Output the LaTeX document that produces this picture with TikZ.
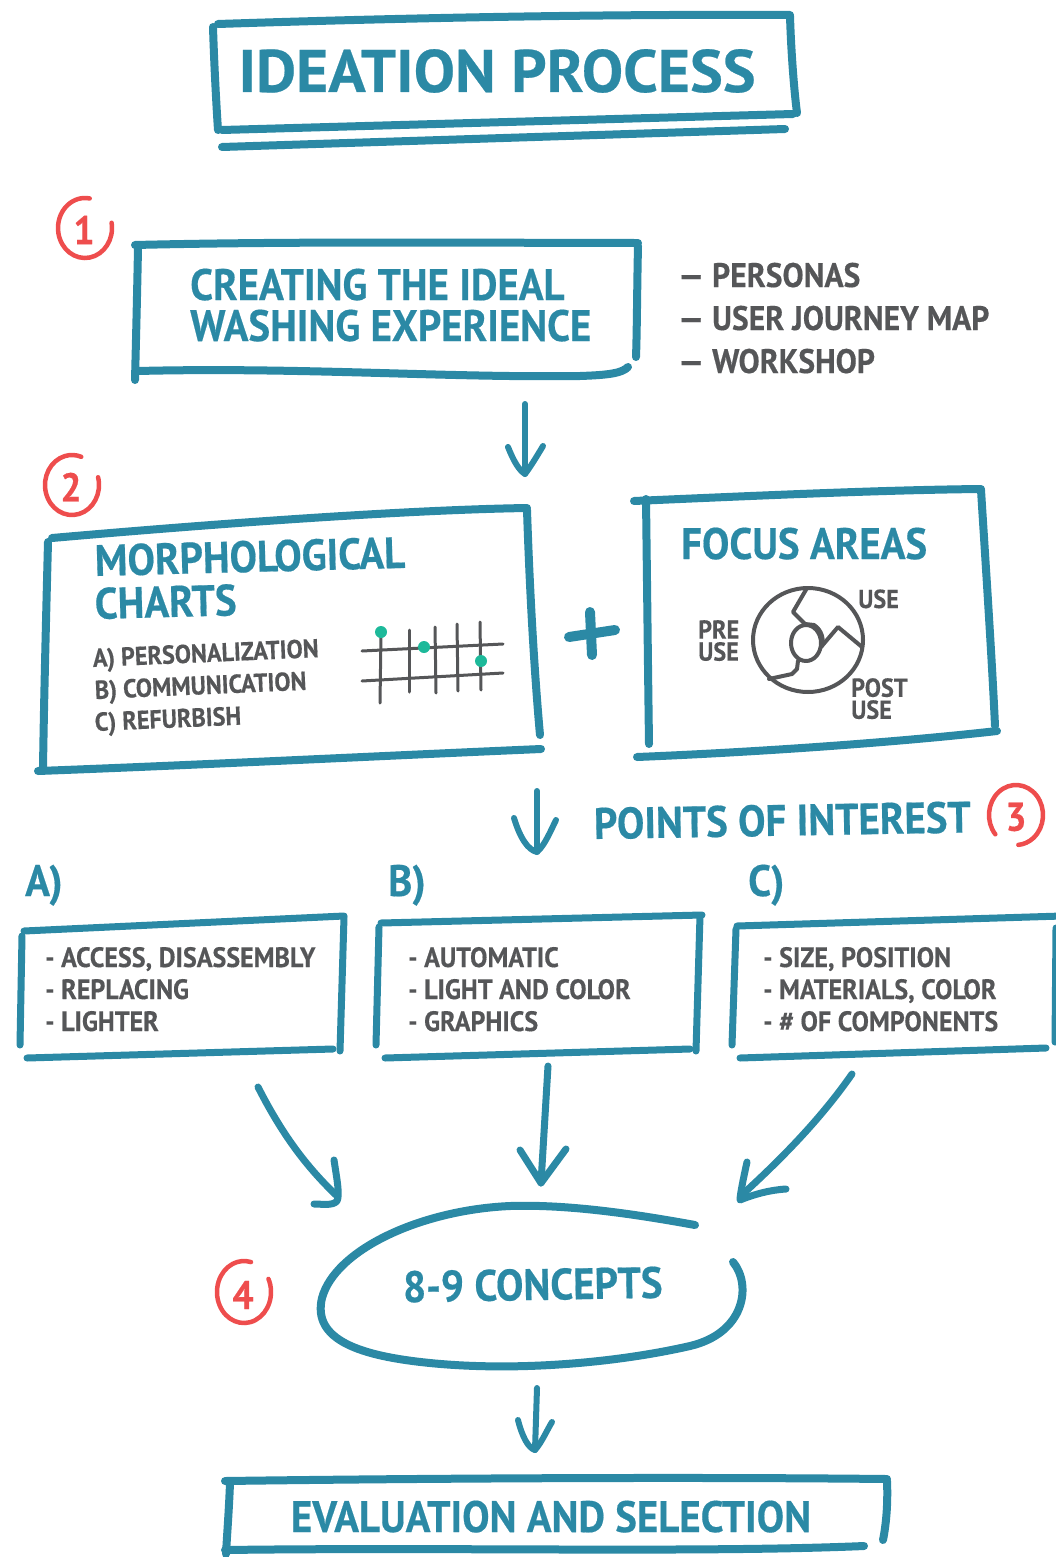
\documentclass[tikz,border=0pt]{standalone}
\usepackage{fontspec}
\setmainfont{PT Sans}[FakeStretch=0.93,BoldFeatures={FakeBold=0.4}]
\newfontfamily\titlefont{PT Sans}[FakeStretch=1.03,BoldFeatures={FakeBold=0.4}]
\definecolor{ink}{HTML}{2B89A5}
\definecolor{redc}{HTML}{EE4D4D}
\definecolor{grayc}{HTML}{555658}
\definecolor{dotc}{HTML}{1DB99A}
\newcommand{\fsz}[1]{\fontsize{#1}{#1}\selectfont}
\begin{document}
\begin{tikzpicture}[x=1pt,y=-1pt,
  sk/.style={draw=ink,line width=8pt,line cap=round,line join=round},
  skthin/.style={draw=ink,line width=7pt,line cap=round,line join=round},
  skarr/.style={draw=ink,line width=6pt,line cap=round,line join=round},
  ring/.style={draw=redc,line width=4.5pt,line cap=round},
  rnum/.style={text=redc,font=\bfseries\fsz{40},inner sep=0},
  hd/.style={text=ink,font=\bfseries\fsz{44},anchor=base west,inner sep=0},
  gl/.style={text=grayc,font=\bfseries\fsz{28},anchor=base west,inner sep=0},
  gsmall/.style={text=grayc,font=\bfseries\fontsize{26}{22}\selectfont,align=left,anchor=north west,inner sep=0},
  pen/.style={draw=grayc,line width=3pt,line cap=round,line join=round},
  gdot/.style={circle,fill=dotc,inner sep=0,minimum size=12pt}
]
\useasboundingbox (0,0) rectangle (1055,1557);

% ---------- title ----------
\draw[sk] (218,24) .. controls (400,18) and (600,14) .. (790,15);
\draw[sk] (213,27) .. controls (214,60) and (216,100) .. (218,130);
\draw[sk] (790,16) .. controls (791,50) and (794,90) .. (797,113);
\draw[sk] (222,130) -- (793,114);
\draw[sk] (222,147) -- (785,129);
\node[hd,font=\titlefont\bfseries\fsz{60},anchor=base] (title) at (497,92) {IDEATION PROCESS};

% ---------- step 1 ----------
\coordinate (c1) at (85,228);
\draw[ring] ([shift={(-10:27 and 30)}]c1) arc[start angle=-10,end angle=280,x radius=27,y radius=30];
\node[rnum] (n1) at (84,230) {1};
\draw[sk] (135,245) .. controls (300,241) and (500,243) .. (638,243);
\draw[sk] (138,248) .. controls (137,300) and (136,340) .. (135,380);
\draw[sk] (638,246) .. controls (637,290) and (637,330) .. (636,357);
\draw[sk] (138,371) .. controls (300,367) and (450,378) .. (580,376) .. controls (610,375) and (622,373) .. (628,367);
\node[hd] (s1a) at (190,300) {CREATING THE IDEAL};
\node[hd] (s1b) at (190,341) {WASHING EXPERIENCE};
\node[gl,font=\bfseries\fsz{34}] (l1) at (678,287) {— PERSONAS};
\node[gl,font=\bfseries\fsz{34}] (l2) at (678,330) {— USER JOURNEY MAP};
\node[gl,font=\bfseries\fsz{34}] (l3) at (678,373) {— WORKSHOP};

% arrow 1
\coordinate (a1s) at (525,404);
\coordinate (a1e) at (525,474);
\draw[skarr] (a1s) -- (a1e);
\draw[skarr] (508,447) .. controls (514,462) and (519,470) .. (a1e) .. controls (531,466) and (537,456) .. (543,446);

% ---------- step 2 ----------
\coordinate (c2) at (72,485);
\draw[ring] ([shift={(-15:27 and 30)}]c2) arc[start angle=-15,end angle=290,x radius=27,y radius=30];
\node[rnum] (n2) at (71,487) {2};
\draw[sk] (52,538) .. controls (200,525) and (400,510) .. (527,508);
\draw[sk] (48,542) .. controls (46,620) and (44,700) .. (43,768);
\draw[sk] (527,510) .. controls (530,600) and (535,680) .. (540,735);
\draw[sk] (38,771) .. controls (200,765) and (400,755) .. (541,749);
\node[hd,rotate=1.5] (mo1) at (95,576) {MORPHOLOGICAL};
\node[hd,rotate=1.5] (mo2) at (95,619) {CHARTS};
\node[gl,font=\bfseries\fsz{26},rotate=2.5] (ma) at (93,667) {A) PERSONALIZATION};
\node[gl,font=\bfseries\fsz{26},rotate=2.5] (mb) at (95,699) {B) COMMUNICATION};
\node[gl,font=\bfseries\fsz{26},rotate=2.5] (mc) at (95,731) {C) REFURBISH};
% grid
\draw[pen] (362,651) -- (503,644);
\draw[pen] (362,681) -- (503,673);
\draw[pen] (381,634) -- (380,703);
\draw[pen] (409,630) -- (409,692);
\draw[pen] (435,627) -- (436,693);
\draw[pen] (457,624) -- (458,691);
\draw[pen] (480,622) -- (481,690);
\node[gdot] (d1) at (381,632) {};
\node[gdot] (d2) at (424,647) {};
\node[gdot] (d3) at (481,661) {};

% plus
\draw[sk,line width=10pt] (569,637) -- (615,630);
\draw[sk,line width=10pt] (590,612) -- (592,655);

% focus areas
\draw[sk] (634,501) .. controls (750,496) and (880,490) .. (981,489);
\draw[sk] (646,499) .. controls (647,580) and (648,670) .. (649,744);
\draw[sk] (981,490) .. controls (986,570) and (992,660) .. (995,726);
\draw[sk] (637,757) .. controls (760,752) and (900,742) .. (997,731);
\node[hd] (fa) at (681,559) {FOCUS AREAS};
\draw[pen,line width=4pt] (808,640) ellipse[x radius=55,y radius=52];
\draw[pen,line width=4pt] (806,643) ellipse[x radius=15,y radius=18];
\draw[pen,line width=4pt] (807,588) -- (793,612) -- (805,624) -- (814,625)
  .. controls (822,630) and (824,640) .. (822,646);
\draw[pen,line width=4pt] (821,647) -- (838,627) -- (862,647);
\draw[pen,line width=4pt] (798,661) -- (797,669) -- (792,674) -- (769,679);
\node[gl,font=\bfseries\fsz{26}] (u1) at (858,608) {USE};
\node[gsmall] (pre) at (698,620) {PRE\\USE};
\node[gsmall] (post) at (851,678) {POST\\USE};

% arrow 2
\coordinate (a2s) at (537,791);
\coordinate (a2e) at (537,852);
\draw[skarr] (a2s) -- (a2e);
\draw[skarr] (514,818) .. controls (520,838) and (528,850) .. (a2e) .. controls (545,845) and (551,830) .. (556,820);

% ---------- step 3 ----------
\node[hd,rotate=1] (poi) at (594,839) {POINTS OF INTEREST};
\coordinate (c3) at (1016,815);
\draw[ring] ([shift={(140:27 and 30)}]c3) arc[start angle=140,end angle=445,x radius=27,y radius=30];
\node[rnum] (n3) at (1016,817) {3};
\node[hd] (la) at (25,896) {A)};
\node[hd] (lb) at (388,896) {B)};
\node[hd] (lc) at (748,896) {C)};

% box A
\draw[skthin] (24,931) -- (344,916);
\draw[skthin] (22,936) -- (20,1045);
\draw[skthin] (344,917) -- (340,1051);
\draw[skthin] (27,1058) -- (333,1049);
\node[gl] (a_1) at (45,967) {- ACCESS, DISASSEMBLY};
\node[gl] (a_2) at (45,999) {- REPLACING};
\node[gl] (a_3) at (45,1031) {- LIGHTER};
% box B
\draw[skthin] (381,923) -- (702,915);
\draw[skthin] (379,927) -- (376,1045);
\draw[skthin] (700,916) -- (696,1051);
\draw[skthin] (385,1058) -- (690,1049);
\node[gl] (b_1) at (408,967) {- AUTOMATIC};
\node[gl] (b_2) at (408,999) {- LIGHT AND COLOR};
\node[gl] (b_3) at (408,1031) {- GRAPHICS};
% box C
\draw[skthin] (737,926) -- (1062,916);
\draw[skthin] (736,929) -- (732,1045);
\draw[skthin] (1056,928) -- (1055,1042);
\draw[skthin] (740,1058) -- (1046,1048);
\node[gl] (c_1) at (763,967) {- SIZE, POSITION};
\node[gl] (c_2) at (763,999) {- MATERIALS, COLOR};
\node[gl] (c_3) at (763,1031) {- \# OF COMPONENTS};

% arrows to concepts
\coordinate (al_s) at (258,1087);
\coordinate (al_e) at (337,1196);
\draw[skarr,line width=7pt] (al_s) .. controls (285,1140) and (310,1170) .. (al_e);
\draw[skarr,line width=7pt] (334,1160) .. controls (337,1180) and (340,1195) .. (337,1201) .. controls (333,1206) and (322,1204) .. (314,1204);
\coordinate (am_s) at (548,1066);
\coordinate (am_e) at (541,1183);
\draw[skarr,line width=7pt] (am_s) -- (am_e);
\draw[skarr,line width=7pt] (520,1150) -- (am_e) -- (566,1149);
\coordinate (ar_s) at (852,1074);
\coordinate (ar_e) at (744,1193);
\draw[skarr,line width=7pt] (ar_s) .. controls (820,1120) and (780,1160) .. (ar_e);
\draw[skarr,line width=7pt] (747,1162) .. controls (743,1180) and (740,1195) .. (740,1200) .. controls (755,1194) and (770,1190) .. (786,1189);

% ---------- step 4 ----------
\coordinate (c4) at (244,1292);
\draw[ring] ([shift={(-25:27 and 31)}]c4) arc[start angle=-25,end angle=285,x radius=27,y radius=31];
\node[rnum] (n4) at (243,1295) {4};
\draw[sk] (695,1225) .. controls (640,1215) and (570,1204) .. (510,1206)
  .. controls (420,1210) and (335,1250) .. (322,1298)
  .. controls (312,1340) and (360,1356) .. (430,1363)
  .. controls (520,1372) and (620,1362) .. (690,1346)
  .. controls (745,1333) and (752,1285) .. (733,1262);
\node[hd,anchor=base,rotate=1] (conc) at (533,1300) {8-9 CONCEPTS};

% arrow 4
\coordinate (a4s) at (537,1388);
\coordinate (a4e) at (535,1450);
\draw[skarr] (a4s) -- (a4e);
\draw[skarr] (518,1420) .. controls (522,1436) and (528,1448) .. (a4e) .. controls (542,1442) and (547,1430) .. (552,1422);

% ---------- evaluation ----------
\draw[sk] (225,1481) .. controls (450,1478) and (700,1477) .. (887,1479);
\draw[sk] (230,1483) .. controls (229,1510) and (227,1535) .. (226,1554);
\draw[sk] (887,1481) .. controls (888,1505) and (886,1525) .. (883,1540);
\draw[sk] (225,1550) .. controls (450,1547) and (700,1553) .. (864,1546);
\node[hd,anchor=base] (eval) at (551,1532) {EVALUATION AND SELECTION};
\end{tikzpicture}
\end{document}
